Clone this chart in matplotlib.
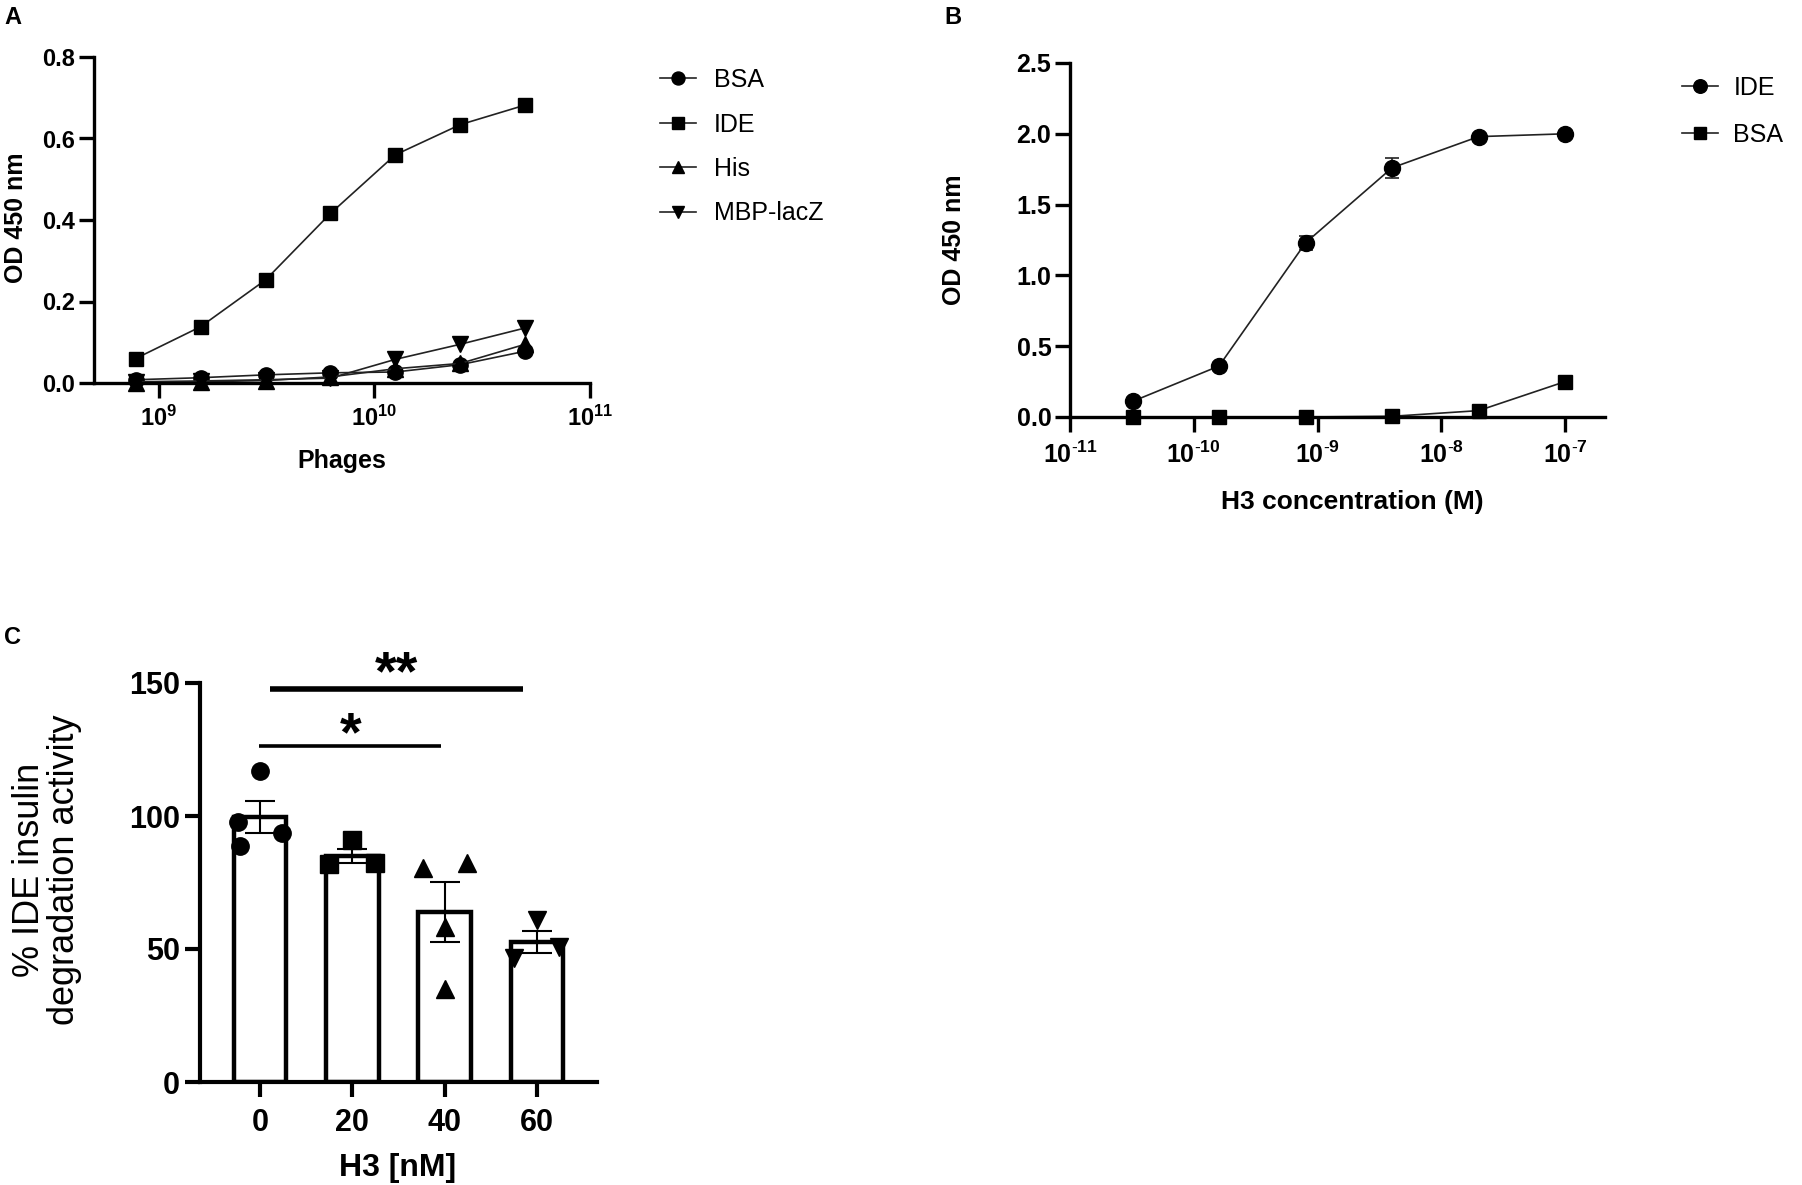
import matplotlib
matplotlib.use("Agg")
import matplotlib.pyplot as plt
import numpy as np
from matplotlib.lines import Line2D

plt.rcParams['font.family'] = ['Liberation Sans', 'DejaVu Sans']
plt.rcParams['mathtext.fontset'] = 'custom'
plt.rcParams['mathtext.rm'] = 'Liberation Sans'
plt.rcParams['mathtext.bf'] = 'Liberation Sans:bold'

# panel A: phage ELISA
phages = [7.8e8, 1.56e9, 3.125e9, 6.25e9, 1.25e10, 2.5e10, 5e10]
bsa_a = [0.008, 0.013, 0.020, 0.025, 0.027, 0.045, 0.078]
ide_a = [0.060, 0.138, 0.253, 0.416, 0.560, 0.634, 0.682]
his_a = [0.000, 0.003, 0.006, 0.015, 0.035, 0.048, 0.095]
mbp_a = [0.003, 0.005, 0.008, 0.012, 0.058, 0.095, 0.135]

# panel B: H3 binding
conc = [3.2e-11, 1.6e-10, 8e-10, 4e-9, 2e-8, 1e-7]
ide_b = [0.11, 0.36, 1.23, 1.76, 1.98, 2.00]
ide_b_err = [0.01, 0.02, 0.05, 0.07, 0.01, 0.01]
bsa_b = [0.0, 0.0, 0.0, 0.005, 0.045, 0.25]

# panel C: IDE activity
h3_labels = ['0', '20', '40', '60']
activity_mean = [99.7, 85.0, 63.9, 52.5]
activity_sem = [6.1, 2.7, 11.2, 4.1]
activity_points = [
    [117.0, 97.9, 93.6, 88.7],
    [91.0, 81.8, 82.2],
    [80.3, 82.2, 58.4, 34.8],
    [60.9, 46.5, 50.9],
]
jitter = [
    [0.0, -0.24, 0.24, -0.22],
    [0.0, -0.25, 0.25],
    [-0.24, 0.24, 0.0, 0.0],
    [0.0, -0.25, 0.24],
]

W, H = 1802, 1185
fig = plt.figure(figsize=(W / 100, H / 100), dpi=100)


def box(left, right, top, bottom):
    return [left / W, 1 - bottom / H, (right - left) / W, (bottom - top) / H]


def style_axes(ax, lw, size, tick_len=10.5):
    for s in ['top', 'right']:
        ax.spines[s].set_visible(False)
    for s in ['left', 'bottom']:
        ax.spines[s].set_linewidth(lw)
    ax.tick_params(which='major', width=lw, length=tick_len, labelsize=size, direction='out')
    ax.tick_params(which='minor', length=0)
    for lab in ax.get_xticklabels() + ax.get_yticklabels():
        lab.set_fontweight('bold')


line_kw = dict(color='#222222', lw=1.2, markerfacecolor='black', markeredgecolor='black')

# ---- A ----
axA = fig.add_axes(box(94, 590, 57, 383))
axA.plot(phages, bsa_a, marker='o', ms=11, label='BSA', **line_kw)
axA.plot(phages, ide_a, marker='s', ms=10.5, label='IDE', **line_kw)
axA.plot(phages, his_a, marker='^', ms=11, label='His', **line_kw)
axA.plot(phages, mbp_a, marker='v', ms=11, label='MBP-lacZ', **line_kw)
axA.set_xscale('log')
axA.set_xlim(5e8, 1e11)
axA.set_ylim(0, 0.8)
axA.set_xticks([1e9, 1e10, 1e11])
axA.set_xticklabels([r'$\mathbf{10^{9}}$', r'$\mathbf{10^{10}}$', r'$\mathbf{10^{11}}$'])
axA.set_yticks(np.arange(0, 0.81, 0.2))
axA.set_yticklabels(['%.1f' % v for v in np.arange(0, 0.81, 0.2)])
style_axes(axA, 2.4, 17)
axA.tick_params(axis='x', pad=6)
axA.tick_params(axis='y', pad=3)
axA.set_xlabel('Phages', fontsize=18, fontweight='bold')
axA.set_ylabel('OD 450 nm', fontsize=18, fontweight='bold')
axA.xaxis.set_label_coords((342 - 94) / 496, -(449 - 383) / 326)
axA.yaxis.set_label_coords((28 - 94) / 496, (383 - 218) / 326)
for ln in axA.get_lines():
    ln.set_clip_on(False)
axA.legend(loc='upper left', bbox_to_anchor=(660 / W, 1 - 68 / H),
           bbox_transform=fig.transFigure, frameon=False, fontsize=18,
           handlelength=1.45, handletextpad=0.7, labelspacing=0.82,
           borderpad=0, borderaxespad=0, markerscale=0.85)

# ---- B ----
axB = fig.add_axes(box(1070, 1605, 63, 417))
axB.errorbar(conc, ide_b, yerr=ide_b_err, marker='o', ms=11.5, capsize=5,
             elinewidth=1.2, capthick=1.2, ecolor='#222222', label='IDE', **line_kw)
axB.plot(conc, bsa_b, marker='s', ms=10.5, label='BSA', **line_kw)
axB.set_xscale('log')
axB.set_xlim(1e-11, 2.1e-7)
axB.set_ylim(0, 2.5)
axB.set_xticks([1e-11, 1e-10, 1e-9, 1e-8, 1e-7])
axB.set_xticklabels([r'$\mathbf{10^{\text{-}%d}}$' % e for e in [11, 10, 9, 8, 7]])
axB.set_yticks(np.arange(0, 2.51, 0.5))
axB.set_yticklabels(['%.1f' % v for v in np.arange(0, 2.51, 0.5)])
style_axes(axB, 2.4, 18)
axB.tick_params(axis='x', pad=7)
axB.tick_params(axis='y', pad=3)
axB.set_xlabel('H3 concentration (M)', fontsize=19, fontweight='bold')
axB.set_ylabel('OD 450 nm', fontsize=18, fontweight='bold')
axB.xaxis.set_label_coords((1352 - 1070) / 535, -(490 - 417) / 354)
axB.yaxis.set_label_coords((966 - 1070) / 535, (417 - 240) / 354)
for ch in axB.get_children():
    if hasattr(ch, 'set_clip_on'):
        ch.set_clip_on(False)
hB = [Line2D([], [], marker='o', ms=11.5 * 0.85, **line_kw),
      Line2D([], [], marker='s', ms=10.5 * 0.85, **line_kw)]
axB.legend(hB, ['IDE', 'BSA'], loc='upper left', bbox_to_anchor=(1682 / W, 1 - 76 / H),
           bbox_transform=fig.transFigure, frameon=False, fontsize=18,
           handlelength=1.45, handletextpad=0.6, labelspacing=0.9,
           borderpad=0, borderaxespad=0)

# ---- C ----
axC = fig.add_axes(box(200, 597, 683, 1082))
xpos = np.arange(len(h3_labels))
axC.bar(xpos, activity_mean, width=0.57, color='white', edgecolor='black', linewidth=3.2, zorder=2)
axC.errorbar(xpos, activity_mean, yerr=activity_sem, fmt='none', ecolor='black',
             elinewidth=1.5, capsize=11, capthick=1.5, zorder=3)
markers_c = ['o', 's', '^', 'v']
for i, pts in enumerate(activity_points):
    axC.plot(xpos[i] + np.array(jitter[i]), pts, ls='none', marker=markers_c[i],
             ms=12.5, color='black', zorder=4, clip_on=False)
axC.set_xlim(-0.65, 3.65)
axC.set_ylim(0, 150)
axC.set_xticks(xpos)
axC.set_xticklabels(h3_labels)
axC.set_yticks([0, 50, 100, 150])
style_axes(axC, 3.0, 22)
axC.tick_params(axis='x', pad=8)
axC.tick_params(axis='y', pad=4)
axC.set_xlabel('H3 [nM]', fontsize=23, fontweight='bold')
axC.xaxis.set_label_coords((398 - 200) / 397, -(1153 - 1082) / 399)
axC.set_ylabel('% IDE insulin\ndegradation activity', fontsize=26, linespacing=1.0)
axC.yaxis.set_label_coords((82 - 200) / 397, (1082 - 870) / 399)

# significance bars
axC.plot([0.11, 2.85], [147.7, 147.7], color='black', lw=4.0, clip_on=False, solid_capstyle='butt')
axC.text(1.48, 147.7, '**', ha='center', va='baseline', fontsize=40, fontweight='bold')
axC.plot([-0.01, 1.96], [126.3, 126.3], color='black', lw=2.6, clip_on=False, solid_capstyle='butt')
axC.text(0.98, 124.8, '*', ha='center', va='baseline', fontsize=40, fontweight='bold')

# panel letters
fig.text(4 / W, 1 - 17 / H, 'A', fontsize=17, fontweight='bold', va='center')
fig.text(944 / W, 1 - 17 / H, 'B', fontsize=17, fontweight='bold', va='center')
fig.text(4 / W, 1 - 637 / H, 'C', fontsize=17, fontweight='bold', va='center')

fig.savefig('out.png', dpi=100)
